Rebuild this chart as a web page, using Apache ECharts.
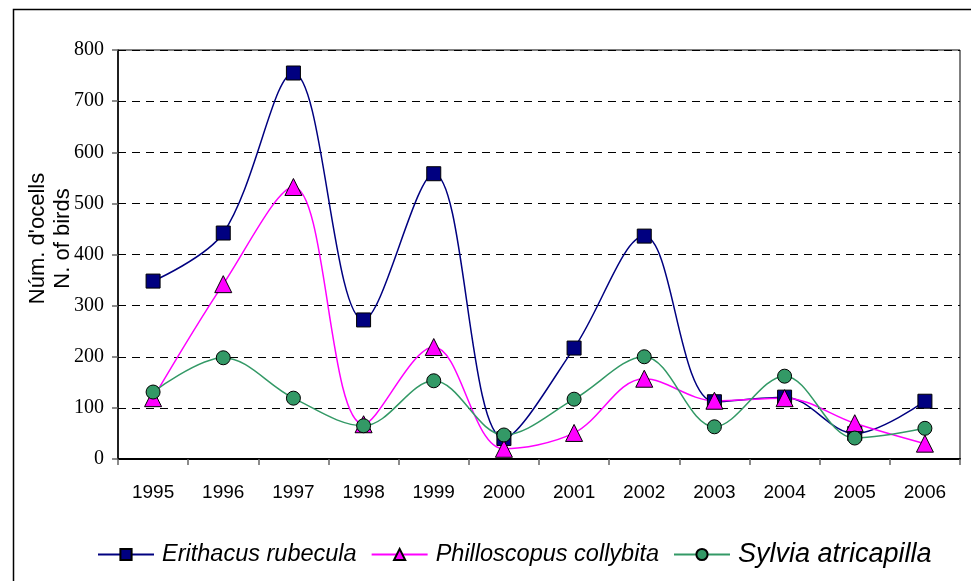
<!DOCTYPE html>
<html><head><meta charset="utf-8">
<script src="https://cdn.jsdelivr.net/npm/echarts@6/dist/echarts.min.js"></script>
<style>html,body{margin:0;padding:0;background:#fff}#c{width:971px;height:581px}</style>
</head><body><div id="c"></div>
<script>
const years = ['1995','1996','1997','1998','1999','2000','2001','2002','2003','2004','2005','2006'];
const erithacus = [348, 442, 755, 272, 558, 40, 217, 436, 112, 121, 50, 113];
const philloscopus = [119, 342, 532, 68, 219, 20, 51, 157, 114, 119, 70, 30];
const sylvia = [131, 198, 119, 65, 153, 47, 117, 200, 63, 162, 41, 60];
const yTicks = [0, 100, 200, 300, 400, 500, 600, 700, 800];
const yName = "Núm. d'ocells\nN. of birds";

const chart = echarts.init(document.getElementById('c'), null, {renderer: 'canvas'});
function mk(name, data, color, symbol, size) {
  return {
    name, type: 'line', data, smooth: 0.35, symbol, symbolSize: size,
    lineStyle: {color, width: 1.5},
    itemStyle: {color, borderColor: '#000', borderWidth: 1},
    emphasis: {disabled: true}, z: 3
  };
}
chart.setOption({
  animation: false,
  backgroundColor: '#fff',
  graphic: [{
    type: 'rect', left: 11, top: 7, z: -1, silent: true,
    shape: {width: 1000, height: 620},
    style: {fill: 'none', stroke: '#000', lineWidth: 1.5}
  }],
  grid: {left: 118, right: 11, top: 50, bottom: 122, show: true, borderColor: '#000', borderWidth: 1, backgroundColor: 'transparent'},
  xAxis: {
    type: 'category', data: years, boundaryGap: true,
    axisLine: {lineStyle: {color: '#000', width: 2}},
    axisTick: {show: true, length: 6, lineStyle: {color: '#666', width: 1.5}},
    axisLabel: {fontFamily: 'Liberation Sans', fontSize: 19, color: '#000', margin: 24}
  },
  yAxis: {
    type: 'value', min: yTicks[0], max: yTicks[yTicks.length - 1], interval: 100,
    name: yName, nameLocation: 'middle', nameRotate: 90, nameGap: 43, nameMoveOverlap: false,
    nameTextStyle: {fontFamily: 'Liberation Sans', fontSize: 22, color: '#000', lineHeight: 25, padding: [0, 0, 0, 32]},
    axisLine: {show: true, lineStyle: {color: '#000', width: 1.5}},
    axisTick: {show: true, length: 6, lineStyle: {color: '#666', width: 1.5}},
    axisLabel: {fontFamily: 'Liberation Serif', fontSize: 20, color: '#000', margin: 14},
    splitLine: {show: true, lineStyle: {color: '#000', type: [8, 6], width: 1}}
  },
  legend: {
    top: 536, left: 92, itemWidth: 56, itemHeight: 14, itemGap: 14,
    data: ['Erithacus rubecula', 'Philloscopus collybita', 'Sylvia atricapilla'],
    formatter: n => n === 'Sylvia atricapilla' ? '{b|' + n + '}' : '{a|' + n + '}',
    textStyle: {
      color: '#000',
      rich: {
        a: {fontFamily: 'Liberation Sans', fontStyle: 'italic', fontSize: 23.5, color: '#000', padding: [0, 0, 0, 3]},
        b: {fontFamily: 'Liberation Sans', fontStyle: 'italic', fontSize: 27, color: '#000', padding: [0, 0, 0, 3]}
      }
    }
  },
  series: [
    mk('Erithacus rubecula', erithacus, '#000080', 'rect', 14),
    mk('Philloscopus collybita', philloscopus, '#FF00FF', 'triangle', 17),
    mk('Sylvia atricapilla', sylvia, '#339966', 'circle', 14)
  ]
});
</script></body></html>
